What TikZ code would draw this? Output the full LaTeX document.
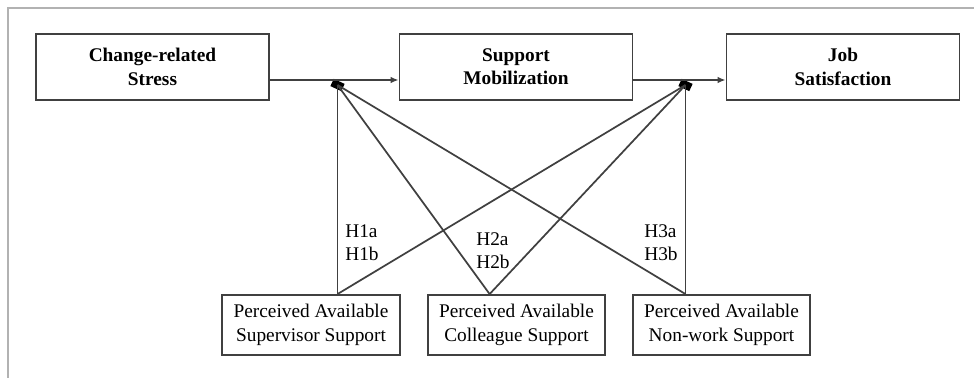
\documentclass[tikz,border=0pt]{standalone}
\usepackage{fontspec}
\setmainfont{Liberation Serif}
\usetikzlibrary{arrows.meta,calc}
\begin{document}
\begin{tikzpicture}[x=0.75pt,y=-0.75pt,
  txt/.style={font=\fontsize{14.5}{17.5}\selectfont},
  box/.style={txt, draw=black!75, line width=1.4pt, inner sep=0pt, align=center},
  topbox/.style={box, font=\fontsize{14.5}{17.5}\selectfont\bfseries, minimum width=174.75pt, minimum height=49.5pt},
  lowbox/.style={box, minimum width=133pt, minimum height=45pt},
  link/.style={draw=black!75, line width=1.3pt},
  flow/.style={link, -{Latex[length=6pt,width=5pt]}},
  knot/.style={fill=black, inner sep=0pt, minimum width=9pt, minimum height=6pt, rotate=-25},
  hyp/.style={txt, align=left, inner sep=0pt}
]
% canvas and frame
\useasboundingbox (0,0) rectangle (974,378);
\draw[black!30, line width=0.8pt] (8,378) -- (8,8) -- (974,8);

% main chain
\node[topbox] (stress) at (152.5,67) {Change-related\\Stress};
\node[topbox] (mob) at (516,67) {Support\\Mobilization};
\node[topbox] (sat) at (843,67) {Job\\Satisfaction};

% support sources
\node[lowbox] (sup) at (311,325) {Perceived Available\\Supervisor Support};
\node[lowbox] (col) at (516.5,325) {Perceived Available\\Colleague Support};
\node[lowbox] (nw) at (721.5,325) {Perceived Available\\Non-work Support};

% moderation points
\coordinate (row) at (0,80);
\node[knot] (j1) at (337.5,85) {};
\node[knot] (j2) at (685.5,85) {};

\draw[flow] (stress.east |- row) -- (mob.west |- row);
\draw[flow] (mob.east |- row) -- (sat.west |- row);

% anchor points on the top edges of the source boxes
\coordinate (s1) at (j1 |- sup.north);
\coordinate (s2) at ($(col.north west)!0.35!(col.north east)$);
\coordinate (s3) at (j2 |- nw.north);

\draw[link] (s1) -- (j1.center);
\draw[link] (s1) -- (j2.center);
\draw[link] (s2) -- (j1.center);
\draw[link] (s2) -- (j2.center);
\draw[link] (s3) -- (j1.center);
\draw[link] (s3) -- (j2.center);

% hypothesis labels
\node[hyp] (h1) at (362,243) {H1a\\H1b};
\node[hyp] (h2) at (493,251) {H2a\\H2b};
\node[hyp] (h3) at (661,243) {H3a\\H3b};
\end{tikzpicture}
\end{document}
